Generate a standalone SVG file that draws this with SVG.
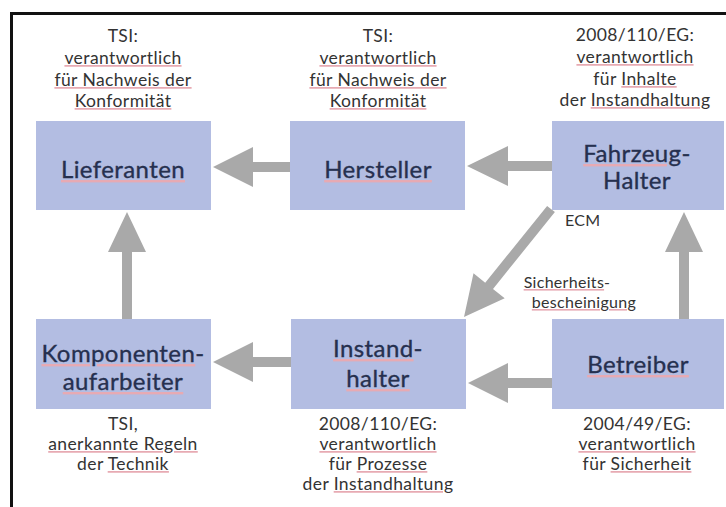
<svg xmlns="http://www.w3.org/2000/svg" width="726" height="507" viewBox="0 0 726 507">
  <style>
    .box { fill: #b3bde2; }
    .arrow { fill: #a9a9a9; }
    .label { font-family: Lato, "Liberation Sans", sans-serif; font-size: 24px; letter-spacing: 0.4px; fill: #26304f; text-anchor: middle; }
    .note { font-family: Lato, "Liberation Sans", sans-serif; font-size: 17.5px; letter-spacing: 0.4px; fill: #333333; text-anchor: middle; }
    .tag { font-family: Lato, "Liberation Sans", sans-serif; font-size: 16px; letter-spacing: 0.3px; fill: #333333; }
    /* spell-check style underline: painted in the fill of the decorated tspan */
    .sp { text-decoration: underline; fill: #e7aab3; }
    .label .ink { fill: #26304f; }
    .label .ink, .label .plain { stroke: #26304f; stroke-width: 0.35px; }
    .note .ink, .tag .ink { fill: #333333; }
  </style>

  <rect width="726" height="507" fill="#ffffff"/>
  <!-- outer frame -->
  <rect x="11.5" y="13.5" width="800" height="600" fill="none" stroke="#111111" stroke-width="3"/>

  <!-- connectors -->
  <g id="connectors">
    <polygon class="arrow" points="290,162 253,162 253,147 213,167 253,187 253,172 290,172"/>
    <polygon class="arrow" points="552,161 508,161 508,146 467,166 508,186 508,171 552,171"/>
    <polygon class="arrow" points="291,357 253,357 253,342 213,362 253,382 253,367 291,367"/>
    <polygon class="arrow" points="552,378 508,378 508,363 468,383 508,403 508,388 552,388"/>
    <polygon class="arrow" points="122,319 122,252 108,252 127,212 146,252 132,252 132,319"/>
    <polygon class="arrow" points="679,319 679,252 665,252 684,212 703,252 689,252 689,319"/>
    <polygon class="arrow" points="547.1,205.9 554.9,212.1 493,288.9 504.7,298.3 464,317 473.5,273.3 485.2,282.7"/>
    <text class="tag" x="565" y="226">ECM</text>
    <text class="tag" x="567" y="288" text-anchor="middle"><tspan class="sp"><tspan class="ink">Sicherheits</tspan></tspan>-</text>
    <text class="tag" x="584" y="308" text-anchor="middle"><tspan class="sp"><tspan class="ink">bescheinigung</tspan></tspan></text>
  </g>

  <g id="lieferanten">
    <rect class="box" x="36" y="121" width="175" height="89"/>
    <text class="label" x="123" y="178"><tspan class="sp"><tspan class="ink">Lieferanten</tspan></tspan></text>
    <text class="note" x="123" y="42">TSI:</text>
    <text class="note" x="123" y="64"><tspan class="sp"><tspan class="ink">verantwortlich</tspan></tspan></text>
    <text class="note" x="123" y="86"><tspan class="sp"><tspan class="ink">für Nachweis der</tspan></tspan></text>
    <text class="note" x="123" y="107"><tspan class="sp"><tspan class="ink">Konformität</tspan></tspan></text>
  </g>

  <g id="hersteller">
    <rect class="box" x="290" y="121" width="175" height="89"/>
    <text class="label" x="378" y="178"><tspan class="sp"><tspan class="ink">Hersteller</tspan></tspan></text>
    <text class="note" x="378" y="42">TSI:</text>
    <text class="note" x="378" y="64"><tspan class="sp"><tspan class="ink">verantwortlich</tspan></tspan></text>
    <text class="note" x="378" y="86"><tspan class="sp"><tspan class="ink">für Nachweis der</tspan></tspan></text>
    <text class="note" x="378" y="107"><tspan class="sp"><tspan class="ink">Konformität</tspan></tspan></text>
  </g>

  <g id="fahrzeughalter">
    <rect class="box" x="552" y="121" width="172" height="89"/>
    <text class="label" x="637" y="162"><tspan class="sp"><tspan class="ink">Fahrzeug</tspan></tspan><tspan class="plain">-</tspan></text>
    <text class="label" x="637" y="189"><tspan class="plain">Halter</tspan></text>
    <text class="note" x="635" y="41">2008/110/EG:</text>
    <text class="note" x="635" y="63"><tspan class="sp"><tspan class="ink">verantwortlich</tspan></tspan></text>
    <text class="note" x="635" y="85">für <tspan class="sp"><tspan class="ink">Inhalte</tspan></tspan></text>
    <text class="note" x="635" y="106">der <tspan class="sp"><tspan class="ink">Instandhaltung</tspan></tspan></text>
  </g>

  <g id="komponentenaufarbeiter">
    <rect class="box" x="36" y="319" width="175" height="90"/>
    <text class="label" x="123" y="362"><tspan class="sp"><tspan class="ink">Komponenten</tspan></tspan><tspan class="plain">-</tspan></text>
    <text class="label" x="123" y="390"><tspan class="sp"><tspan class="ink">aufarbeiter</tspan></tspan></text>
    <text class="note" x="123" y="430">TSI,</text>
    <text class="note" x="123" y="450"><tspan class="sp"><tspan class="ink">anerkannte Regeln</tspan></tspan></text>
    <text class="note" x="123" y="470">der <tspan class="sp"><tspan class="ink">Technik</tspan></tspan></text>
  </g>

  <g id="instandhalter">
    <rect class="box" x="291" y="319" width="175" height="90"/>
    <text class="label" x="378" y="357"><tspan class="sp"><tspan class="ink">Instand</tspan></tspan><tspan class="plain">-</tspan></text>
    <text class="label" x="378" y="387"><tspan class="sp"><tspan class="ink">halter</tspan></tspan></text>
    <text class="note" x="378" y="430">2008/110/EG:</text>
    <text class="note" x="378" y="450"><tspan class="sp"><tspan class="ink">verantwortlich</tspan></tspan></text>
    <text class="note" x="378" y="470">für <tspan class="sp"><tspan class="ink">Prozesse</tspan></tspan></text>
    <text class="note" x="378" y="490">der <tspan class="sp"><tspan class="ink">Instandhaltung</tspan></tspan></text>
  </g>

  <g id="betreiber">
    <rect class="box" x="552" y="319" width="172" height="90"/>
    <text class="label" x="638" y="373"><tspan class="sp"><tspan class="ink">Betreiber</tspan></tspan></text>
    <text class="note" x="637" y="430">2004/49/EG:</text>
    <text class="note" x="637" y="450"><tspan class="sp"><tspan class="ink">verantwortlich</tspan></tspan></text>
    <text class="note" x="637" y="470">für <tspan class="sp"><tspan class="ink">Sicherheit</tspan></tspan></text>
  </g>
</svg>
